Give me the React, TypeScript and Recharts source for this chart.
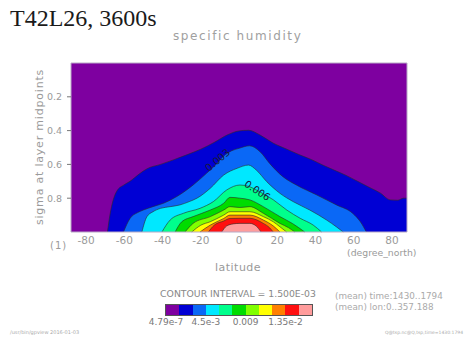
import { AreaChart, Area, XAxis, YAxis, ReferenceDot } from 'recharts';

// lower bound of each colour band (kg/kg), contour interval 1.5e-3
const contourLevels = [4.79e-7, 0.0015, 0.003, 0.0045, 0.006, 0.0075, 0.009, 0.0105, 0.012, 0.0135, 0.015];
const levelColors = ['#7e00a0', '#0000d4', '#0a68f6', '#00e8ff', '#00ff8c', '#00dc00', '#80ff00', '#ffff00', '#ff8000', '#ff1010', '#ff9c9c'];

const latTicks = [-80, -60, -40, -20, 0, 20, 40, 60, 80];
const sigmaTicks = [0.2, 0.4, 0.6, 0.8];
const latRange = [-87.86, 87.86];

const colorbarLabels = ['4.79e-7', '4.5e-3', '0.009', '1.35e-2'];
const colorbarLabelIndex = [0, 3, 6, 9];

// upper edge (sigma) of each band along latitude
const lat00 = [-87.86, 87.86];
const sig00 = [0, 0];
const lat15 = [-68.8, -67.5, -64, -60, -57, -52, -48, -41, -34, -27, -20, -13, -6, 0, 5, 11, 18, 25, 32, 38, 44, 50, 56, 62, 68, 74, 79, 83, 86, 87.86];
const sig15 = [1.0, 0.9, 0.76, 0.72, 0.7, 0.655, 0.625, 0.6, 0.572, 0.542, 0.51, 0.47, 0.425, 0.402, 0.398, 0.426, 0.475, 0.51, 0.545, 0.572, 0.605, 0.635, 0.665, 0.7, 0.735, 0.77, 0.81, 0.812, 0.8, 0.8];
const lat30 = [-60.4, -57, -53, -50, -45, -39.5, -32.5, -24, -17, -12, -8, -4, 0, 5.5, 11, 16, 23, 30, 40.5, 51, 59.5, 63.5, 66.6];
const sig30 = [1.0, 0.92, 0.885, 0.87, 0.85, 0.83, 0.79, 0.722, 0.653, 0.6, 0.55, 0.52, 0.505, 0.49, 0.525, 0.594, 0.673, 0.722, 0.78, 0.84, 0.89, 0.94, 1.0];
const lat45 = [-50.8, -48.2, -45, -41, -36, -31, -26, -22, -15, -8, -1, 5, 9, 14.5, 21.4, 28.3, 37, 45.8, 51, 54.5];
const sig45 = [1.0, 0.91, 0.88, 0.86, 0.85, 0.84, 0.82, 0.8, 0.741, 0.663, 0.623, 0.604, 0.633, 0.702, 0.771, 0.82, 0.87, 0.929, 0.97, 1.0];
const lat60 = [-40.3, -36, -29, -20.4, -13.4, -6.4, 0.5, 5, 10, 18, 25, 32, 38.8, 43.2];
const sig60 = [1.0, 0.929, 0.889, 0.86, 0.82, 0.751, 0.722, 0.73, 0.757, 0.81, 0.87, 0.919, 0.959, 1.0];
const lat75 = [-33.4, -30, -24, -15, -8, -4.7, 0.5, 5.7, 12.7, 21.4, 28, 34.4];
const sig75 = [1.0, 0.94, 0.909, 0.87, 0.83, 0.795, 0.8, 0.81, 0.85, 0.909, 0.95, 1.0];
const lat90 = [-28.2, -24, -15, -8, -4.7, 0.5, 5.7, 12.7, 21.4, 26, 29.2];
const sig90 = [1.0, 0.949, 0.909, 0.87, 0.85, 0.855, 0.85, 0.889, 0.949, 0.975, 1.0];
const lat105 = [-24.7, -20, -15, -8, -4.7, 0.5, 5.7, 12.7, 18, 21.4, 24.9];
const sig105 = [1.0, 0.96, 0.939, 0.9, 0.88, 0.88, 0.88, 0.909, 0.94, 0.969, 1.0];
const lat120 = [-20.4, -15, -8, -4.7, 0.5, 5.7, 12.7, 18, 21.4];
const sig120 = [1.0, 0.959, 0.92, 0.9, 0.9, 0.9, 0.929, 0.965, 1.0];
const lat135 = [-16, -13, -8, -4.7, 0.5, 5.7, 12.7, 16, 17.9];
const sig135 = [1.0, 0.96, 0.935, 0.92, 0.919, 0.919, 0.949, 0.975, 1.0];
const lat150 = [-9, -6.5, -3, 0.5, 5.7, 9, 11.5];
const sig150 = [1.0, 0.965, 0.952, 0.949, 0.949, 0.965, 1.0];

const contourLats = [lat00, lat15, lat30, lat45, lat60, lat75, lat90, lat105, lat120, lat135, lat150];
const contourSigmas = [sig00, sig15, sig30, sig45, sig60, sig75, sig90, sig105, sig120, sig135, sig150];

// line labels
const labelTexts = ['0.003', '0.006'];
const labelLats = [-11.2, 9.6];
const labelSigmas = [0.574, 0.755];
const labelAngles = [-40, 33];

const contours = contourLevels.map((level, i) => ({
    level,
    color: levelColors[i],
    points: contourLats[i].map((lat, j) => ({ lat, sigma: contourSigmas[i][j] })),
}));

const frame = '#b8aac6';
const gray = '#9a9a9a';

const abs = (left: number, top: number, extra: React.CSSProperties = {}): React.CSSProperties => ({
    position: 'absolute',
    left,
    top,
    whiteSpace: 'nowrap',
    ...extra,
});

export default function App() {
    const cbLeft = 166;
    const cbWidth = 146;
    const cell = cbWidth / levelColors.length;

    return (
        <div style={{ position: 'absolute', left: 0, top: 0, width: 464, height: 339, background: '#fff', fontFamily: '"DejaVu Sans", sans-serif' }}>
            <AreaChart width={464} height={339} margin={{ top: 63, right: 57, bottom: 106, left: 70 }}>
                {contours.map((c, i) => (
                    <Area
                        key={c.level}
                        data={c.points}
                        dataKey="sigma"
                        type="monotone"
                        baseValue={1}
                        fill={c.color}
                        fillOpacity={1}
                        stroke={i === 0 ? 'none' : '#2a2a2a'}
                        strokeWidth={0.6}
                        dot={false}
                        activeDot={false}
                        isAnimationActive={false}
                    />
                ))}

                <XAxis
                    type="number"
                    dataKey="lat"
                    domain={latRange}
                    ticks={latTicks}
                    height={1}
                    axisLine={{ stroke: frame }}
                    tickLine={false}
                    tickSize={0}
                    tickMargin={5}
                    tick={{ fill: gray, fontSize: 10.5 }}
                />
                <XAxis xAxisId="bt" type="number" dataKey="lat" domain={latRange} ticks={latTicks} height={1}
                    mirror axisLine={false} tick={false} tickSize={4} tickLine={{ stroke: '#444' }} />
                <XAxis xAxisId="top" orientation="top" type="number" dataKey="lat" domain={latRange} ticks={latTicks} height={1}
                    mirror axisLine={{ stroke: frame }} tick={false} tickSize={4} tickLine={{ stroke: '#444' }} />
                <YAxis
                    type="number"
                    domain={[0, 1]}
                    reversed
                    ticks={sigmaTicks}
                    width={1}
                    axisLine={{ stroke: frame }}
                    tickSize={4}
                    tickMargin={5}
                    tickLine={{ stroke: '#777' }}
                    tick={{ fill: gray, fontSize: 9.5 }}
                />
                <YAxis yAxisId="right" orientation="right" type="number" domain={[0, 1]} reversed ticks={sigmaTicks} width={1}
                    mirror axisLine={{ stroke: frame }} tick={false} tickSize={4} tickLine={{ stroke: '#444' }} />

                {labelTexts.map((t, i) => (
                    <ReferenceDot
                        key={t}
                        x={labelLats[i]}
                        y={labelSigmas[i]}
                        r={0}
                        ifOverflow="visible"
                        shape={(p: any) => (
                            <text
                                x={p.cx}
                                y={p.cy}
                                transform={`rotate(${labelAngles[i]} ${p.cx} ${p.cy})`}
                                textAnchor="middle"
                                dominantBaseline="central"
                                fontSize={10}
                                fill="#1a1a3a"
                                fontFamily="DejaVu Sans"
                            >
                                {t}
                            </text>
                        )}
                    />
                ))}
            </AreaChart>

            <div style={abs(10, 6, { fontFamily: '"Liberation Serif", serif', fontSize: 24, lineHeight: '24px', color: '#1a1a1a' })}>
                T42L26, 3600s
            </div>
            <div style={abs(173, 30, { fontSize: 12, lineHeight: '12px', letterSpacing: 1.6, color: '#a0a0a0' })}>
                specific humidity
            </div>
            <div style={abs(39, 147, { fontSize: 11, lineHeight: '11px', letterSpacing: 0.8, color: gray, transform: 'translate(-50%, -50%) rotate(-90deg)' })}>
                sigma at layer midpoints
            </div>
            <div style={abs(50, 241, { fontSize: 10, lineHeight: '10px', letterSpacing: 1, color: gray })}>(1)</div>
            <div style={abs(347, 248, { fontSize: 9.3, lineHeight: '10px', color: gray })}>(degree_north)</div>
            <div style={abs(238, 262, { fontSize: 11, lineHeight: '11px', letterSpacing: 0.5, color: gray, transform: 'translateX(-50%)' })}>
                latitude
            </div>

            <div style={abs(238, 289, { fontSize: 9.3, lineHeight: '10px', color: '#888', transform: 'translateX(-50%)' })}>
                CONTOUR INTERVAL = 1.500E-03
            </div>
            <div style={{ position: 'absolute', left: cbLeft, top: 305, width: cbWidth, height: 10, display: 'flex', outline: '1px solid #555' }}>
                {levelColors.map((c) => (
                    <div key={c} style={{ flex: 1, background: c }} />
                ))}
            </div>
            {colorbarLabels.map((t, i) => (
                <div key={t} style={abs(cbLeft + colorbarLabelIndex[i] * cell, 318, { fontSize: 9, lineHeight: '9px', color: '#777', transform: 'translateX(-50%)' })}>
                    {t}
                </div>
            ))}
            <div style={abs(335, 291, { fontSize: 8.8, lineHeight: '10px', color: '#aaa' })}>(mean) time:1430..1794</div>
            <div style={abs(335, 302, { fontSize: 8.8, lineHeight: '10px', color: '#aaa' })}>(mean) lon:0..357.188</div>
            <div style={abs(10, 330, { fontSize: 5, lineHeight: '5px', color: '#aaa' })}>/usr/bin/gpview 2016-01-03</div>
            <div style={abs(385, 330, { fontSize: 4.5, lineHeight: '5px', color: '#aaa' })}>Q@tsp.nc@Q,tsp,time=1430:1794</div>
        </div>
    );
}
